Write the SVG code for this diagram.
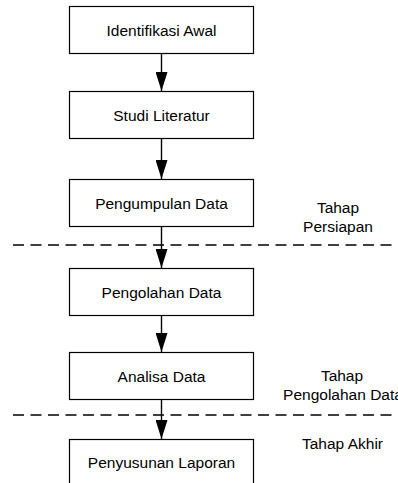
<svg xmlns="http://www.w3.org/2000/svg" width="398" height="483" viewBox="0 0 398 483">
<style>
.box{fill:#fff;stroke:#000;stroke-width:1.2}
.t{font-family:"Liberation Sans",Arial,sans-serif;font-size:15.5px;fill:#000;text-anchor:middle}
.c{stroke:#000;stroke-width:1.4;fill:none}
.d{stroke:#000;stroke-width:1.6;stroke-dasharray:11 6.5;fill:none}
</style>
<defs>
<marker id="ah" markerUnits="userSpaceOnUse" viewBox="0 0 19 12" refX="19" refY="6" markerWidth="19" markerHeight="12" orient="auto">
<path d="M0,0 L19,6 L0,12 z" fill="#000"/>
</marker>
</defs>
<rect width="398" height="483" fill="#fff"/>
<g id="dividers">
<line class="d" x1="13" y1="245" x2="398" y2="245"/>
<line class="d" x1="13" y1="415" x2="398" y2="415"/>
</g>
<g id="connectors">
<line class="c" x1="161.5" y1="53" x2="161.5" y2="91" marker-end="url(#ah)"/>
<line class="c" x1="161.5" y1="138" x2="161.5" y2="179" marker-end="url(#ah)"/>
<line class="c" x1="161.5" y1="226" x2="161.5" y2="268" marker-end="url(#ah)"/>
<line class="c" x1="161.5" y1="315" x2="161.5" y2="352" marker-end="url(#ah)"/>
<line class="c" x1="161.5" y1="400" x2="161.5" y2="439" marker-end="url(#ah)"/>
</g>
<g id="n1"><rect class="box" x="69.5" y="6.5" width="184" height="47"/><text class="t" x="161.5" y="35.5">Identifikasi Awal</text></g>
<g id="n2"><rect class="box" x="69.5" y="91.5" width="184" height="47"/><text class="t" x="161.5" y="120.5">Studi Literatur</text></g>
<g id="n3"><rect class="box" x="69.5" y="179.5" width="184" height="47"/><text class="t" x="161.5" y="208.5">Pengumpulan Data</text></g>
<g id="n4"><rect class="box" x="69.5" y="268.5" width="184" height="47"/><text class="t" x="161.5" y="297.5">Pengolahan Data</text></g>
<g id="n5"><rect class="box" x="69.5" y="352.5" width="184" height="47"/><text class="t" x="161.5" y="381.5">Analisa Data</text></g>
<g id="n6"><rect class="box" x="69.5" y="439.5" width="184" height="60"/><text class="t" x="161.5" y="468">Penyusunan Laporan</text></g>
<g id="labels">
<text class="t" x="338" y="213">Tahap</text>
<text class="t" x="338" y="232">Persiapan</text>
<text class="t" x="342" y="381">Tahap</text>
<text class="t" x="343" y="400">Pengolahan Data</text>
<text class="t" x="342.5" y="449">Tahap Akhir</text>
</g>
</svg>
